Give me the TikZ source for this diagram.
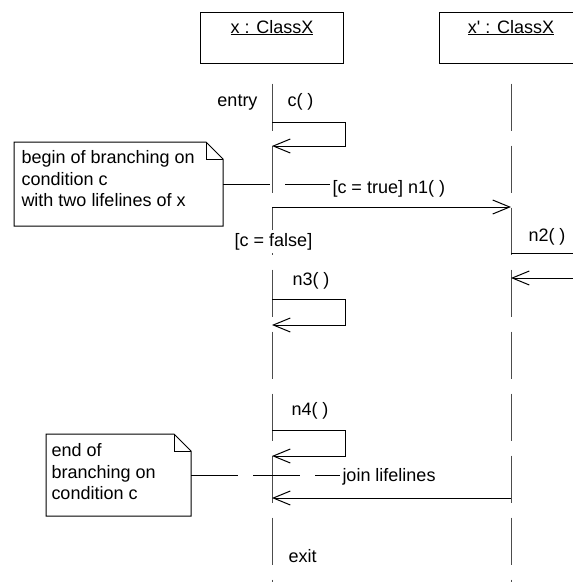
\documentclass[tikz,border=0pt]{standalone}
\usepackage{fontspec}
\setmainfont{Liberation Sans}
\usetikzlibrary{arrows.meta}
\usetikzlibrary{positioning}

% note with folded corner
\newcommand{\umlnote}[1]{%
  \draw (#1.north west) -- ([xshift=-17pt]#1.north east)
    -- ([yshift=-17pt]#1.north east) -- (#1.south east)
    -- (#1.south west) -- cycle;
  \draw ([xshift=-17pt]#1.north east) |- ([yshift=-17pt]#1.north east);
}

\begin{document}
\begin{tikzpicture} [
        x = 1pt,
        y = -1pt,
        line width = 1pt,
        every node/.style = {
          inner sep = 0pt,
          font = \fontsize{18}{21.5}\selectfont,
        },
        objbox/.style = {
          draw,
          minimum width = 143pt,
          minimum height = 51pt,
        },
        notebox/.style = {
          anchor = north west,
          minimum height = 83pt,
        },
        notetext/.style = {
          align = left,
          anchor = north west,
        },
        lifeline/.style = {
          draw = black!70,
          dash pattern = on 47pt off 15pt,
        },
        msg/.style = {
          draw,
          -{Straight Barb[length=17pt, width=14pt]},
        },
        anchorline/.style = {
          draw,
          dash pattern = on 47pt off 15pt,
        },
      ]

    \useasboundingbox (0,0) rectangle (573,582);
    \clip (0,0) rectangle (573,582);

    % objects
    \node [objbox] (objX) at (272,37.5) {};
    \node [anchor=base] (objXName) at (objX.north |- 0,33) {\underline{x : ClassX}};
    \node [objbox] (objXp) at (511,37.5) {};
    \node [anchor=base] (objXpName) at (objXp.north |- 0,33) {\underline{x\textquotesingle\ : ClassX}};

    % lifelines
    \coordinate [below = 20pt of objX] (xTop);
    \coordinate [below = 20pt of objXp] (xpTop);
    \draw [lifeline] (xTop) -- ++(0,500);
    \draw [lifeline] (xpTop) -- ++(0,500);

    % c()
    \coordinate (cOut) at (xTop |- 0,122);
    \coordinate (cIn) at (xTop |- 0,146);
    \draw [msg] (cOut) -- ++(73,0) |- (cIn);
    \node [anchor=base east] (entry) at (258,106) {entry};
    \node [anchor=base west] (cLbl) at (287,106) {c( )};

    % n1 / n2
    \coordinate (n1Out) at (xTop |- 0,207);
    \coordinate (n1In) at (xpTop |- 0,207);
    \draw [msg] (n1Out) -- (n1In);
    \node [anchor=base west, inner sep=2pt] (n1Lbl) at (330,193) {[c = true] n1( )};
    \node [anchor=base, fill=white, inner sep=3pt] (falseLbl) at (273.5,246) {[c = false]};

    \coordinate (n2Out) at (xpTop |- 0,253);
    \coordinate (n2Edge) at (590,253);
    \draw (n2Out) -- (n2Edge);
    \node [anchor=base west] (n2Lbl) at (528,241) {n2( )};
    \coordinate (n2Back) at (590,278);
    \coordinate (n2In) at (xpTop |- 0,278);
    \draw [msg] (n2Back) -- (n2In);

    % n3 / n4
    \coordinate (n3Out) at (xTop |- 0,299);
    \coordinate (n3In) at (xTop |- 0,325);
    \draw [msg] (n3Out) -- ++(73,0) |- (n3In);
    \node [anchor=base west] (n3Lbl) at (292,285) {n3( )};

    \coordinate (n4Out) at (xTop |- 0,430);
    \coordinate (n4In) at (xTop |- 0,456);
    \draw [msg] (n4Out) -- ++(73,0) |- (n4In);
    \node [anchor=base west] (n4Lbl) at (291,415) {n4( )};

    % join
    \coordinate (joinOut) at (xpTop |- 0,498);
    \coordinate (joinIn) at (xTop |- 0,498);
    \draw [msg] (joinOut) -- (joinIn);
    \node [anchor=base west, inner sep=2pt] (joinLbl) at (340,481) {join lifelines};
    \node [anchor=base west] (exit) at (288,562) {exit};

    % notes
    \node [notebox, minimum width=208pt] (note1) at (14,142) {};
    \umlnote{note1}
    \node [notetext] (note1Text) at ([xshift=7pt, yshift=-8pt]note1.north west) {begin of branching on\\condition c\\with two lifelines of x};
    \draw [anchorline] (note1.east) -- (note1.east -| n1Lbl.west);

    \node [notebox, minimum width=144pt, minimum height=81pt] (note2) at (46,434) {};
    \umlnote{note2}
    \node [notetext] (note2Text) at ([xshift=5pt, yshift=-9pt]note2.north west) {end of\\branching on\\condition c};
    \draw [anchorline] (note2.east) -- (note2.east -| joinLbl.west);
  \end{tikzpicture}
\end{document}
